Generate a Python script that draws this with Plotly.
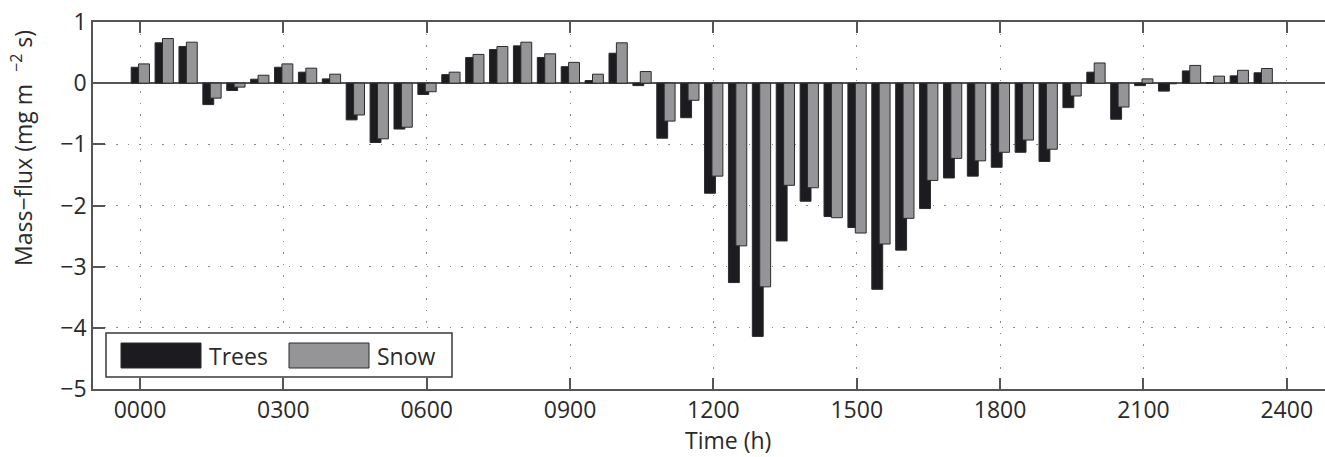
import plotly.graph_objects as go

# half-hourly time (hours)
hours = [i * 0.5 for i in range(48)]

trees = [0.26, 0.66, 0.60, -0.35, -0.12, 0.065, 0.26, 0.18, 0.07, -0.60,
         -0.97, -0.75, -0.185, 0.14, 0.42, 0.55, 0.61, 0.42, 0.27, 0.043,
         0.49, -0.04, -0.90, -0.565, -1.80, -3.26, -4.14, -2.58, -1.93, -2.18,
         -2.36, -3.37, -2.73, -2.05, -1.55, -1.52, -1.375, -1.13, -1.28, -0.40,
         0.18, -0.59, -0.04, -0.13, 0.20, 0.01, 0.12, 0.17]

snow = [0.315, 0.73, 0.67, -0.245, -0.065, 0.13, 0.315, 0.245, 0.147, -0.52,
        -0.91, -0.72, -0.14, 0.18, 0.47, 0.60, 0.67, 0.48, 0.34, 0.147,
        0.66, 0.19, -0.62, -0.28, -1.52, -2.66, -3.33, -1.67, -1.71, -2.20,
        -2.45, -2.63, -2.21, -1.59, -1.23, -1.27, -1.13, -0.93, -1.08, -0.21,
        0.33, -0.39, 0.07, -0.01, 0.29, 0.115, 0.21, 0.24]

x_tickvals = [0, 3, 6, 9, 12, 15, 18, 21, 24]
x_ticktext = ["0000", "0300", "0600", "0900", "1200", "1500", "1800", "2100", "2400"]
y_tickvals = [1, 0, -1, -2, -3, -4, -5]

TREES_COLOR = "#1c1c20"
SNOW_COLOR = "#959598"
EDGE = "#2b2b2e"
AX = "#555558"
FONT = "Open Sans"
TXT = "#2a2a2a"
FS = 23

fig = go.Figure()
fig.add_trace(go.Bar(x=hours, y=trees, name="Trees", width=0.228, offset=-0.185,
                     marker=dict(color=TREES_COLOR, line=dict(color=EDGE, width=1))))
fig.add_trace(go.Bar(x=hours, y=snow, name="Snow", width=0.228, offset=-0.03,
                     marker=dict(color=SNOW_COLOR, line=dict(color=EDGE, width=1))))

W, H = 1325, 457
L, R, T, B = 93, 0, 22, 68
pw, ph = W - L - R, H - T - B


def px(xp):
    return (xp - L) / pw


def py(yp):
    return (H - B - yp) / ph


fig.update_layout(
    width=W, height=H,
    margin=dict(l=L, r=R, t=T, b=B),
    paper_bgcolor="white", plot_bgcolor="white",
    barmode="overlay", showlegend=False,
    font=dict(family=FONT, size=FS, color=TXT),
    xaxis=dict(range=[-0.984, 24.8], tickvals=x_tickvals, ticktext=x_ticktext,
               ticks="inside", ticklen=11, tickwidth=1.5, tickcolor=AX,
               showline=True, linecolor=AX, linewidth=1.5, mirror="ticks",
               showgrid=True, gridcolor="#8a8a8a", gridwidth=1, griddash="1.5px,10px",
               zeroline=False, tickfont=dict(size=FS)),
    yaxis=dict(range=[-5, 1], tickvals=y_tickvals,
               ticks="inside", ticklen=12, tickwidth=1.5, tickcolor=AX,
               showline=True, linecolor=AX, linewidth=1.5, mirror=False,
               showgrid=True, gridcolor="#8a8a8a", gridwidth=1, griddash="1.5px,10px",
               zeroline=True, zerolinecolor=AX, zerolinewidth=1.5,
               tickfont=dict(size=FS)),
)

# axis titles
fig.add_annotation(text="Time (h)", xref="paper", yref="paper",
                   x=px(728), y=py(440), xanchor="center", yanchor="middle",
                   showarrow=False, font=dict(size=FS))
fig.add_annotation(text="Mass\u2212flux (mg m\u00a0 <sup>\u22122</sup> s)", xref="paper", yref="paper",
                   x=px(22), y=py(148), xanchor="center", yanchor="middle",
                   textangle=-90, showarrow=False, font=dict(size=FS))

# legend box (drawn as shapes + text)
fig.add_shape(type="rect", xref="paper", yref="paper",
              x0=px(106), x1=px(452), y0=py(377), y1=py(333),
              fillcolor="white", line=dict(color="#3a3a3a", width=1.5), layer="above")
fig.add_shape(type="rect", xref="paper", yref="paper",
              x0=px(121), x1=px(201), y0=py(368), y1=py(343),
              fillcolor=TREES_COLOR, line=dict(color=EDGE, width=1), layer="above")
fig.add_shape(type="rect", xref="paper", yref="paper",
              x0=px(289), x1=px(369), y0=py(368), y1=py(343),
              fillcolor=SNOW_COLOR, line=dict(color=EDGE, width=1), layer="above")
fig.add_annotation(text="Trees", xref="paper", yref="paper",
                   x=px(207), y=py(356), xanchor="left", yanchor="middle",
                   showarrow=False, font=dict(size=FS))
fig.add_annotation(text="Snow", xref="paper", yref="paper",
                   x=px(375), y=py(356), xanchor="left", yanchor="middle",
                   showarrow=False, font=dict(size=FS))

fig.write_html("out.html", config={"displayModeBar": False},
               post_script="document.body.style.margin='0px';document.body.style.overflow='hidden';")
